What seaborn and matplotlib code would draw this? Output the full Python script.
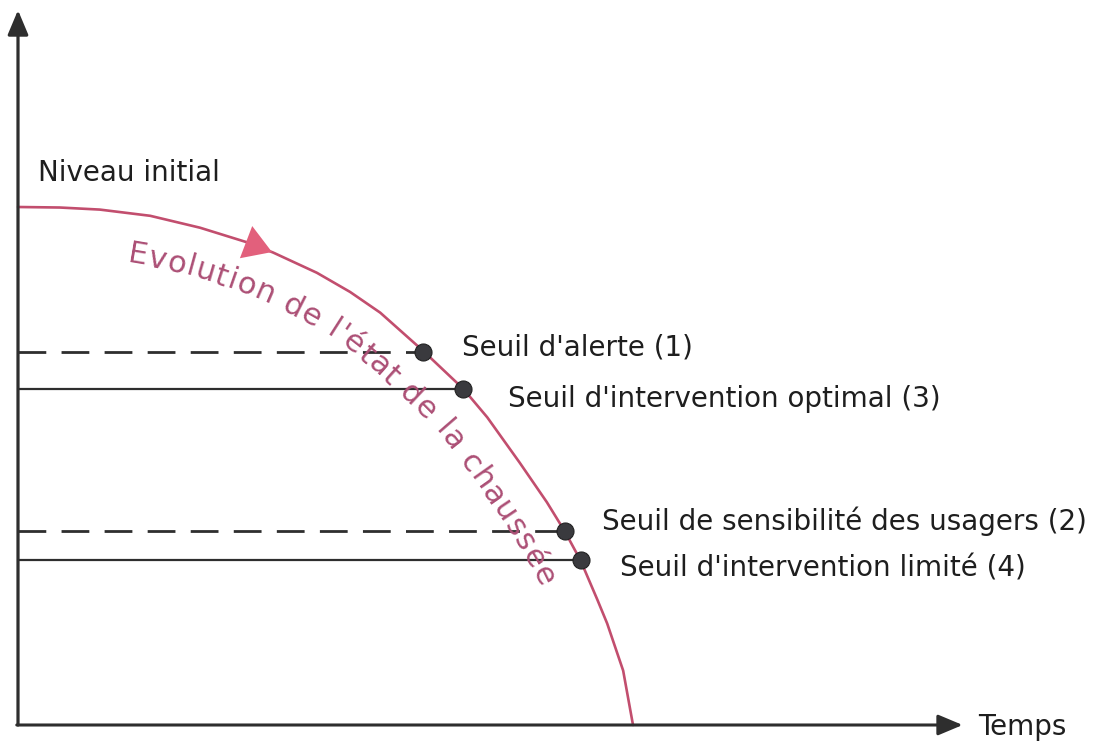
import numpy as np
import pandas as pd
import matplotlib
matplotlib.use("Agg")
import matplotlib.pyplot as plt
import seaborn as sns
from matplotlib.font_manager import FontProperties, findfont
from matplotlib.ft2font import FT2Font

# courbe d'évolution de l'état de la chaussée (temps, niveau)
temps = [0, 6.8, 13.3, 21.5, 29.6, 37.2, 41.5, 48.6, 54.0, 58.9, 65.9, 72.4,
         76.3, 81.6, 86.0, 88.9, 91.5, 94.2, 95.8, 98.4, 100.0]
niveau = [100, 99.9, 99.5, 98.3, 96.0, 93.2, 91.2, 87.3, 83.6, 79.6, 72.2, 64.9,
          59.4, 50.6, 43.0, 37.4, 31.7, 24.2, 19.6, 10.5, 0.0]

# seuils
seuil_labels = ["Seuil d'alerte (1)", "Seuil d'intervention optimal (3)",
                "Seuil de sensibilité des usagers (2)", "Seuil d'intervention limité (4)"]
seuil_temps = [65.9, 72.4, 88.9, 91.5]
seuil_niveau = [72.1, 64.8, 37.5, 31.8]
seuil_style = ["dashed", "solid", "dashed", "solid"]

CURVE = "#c24e6e"
TXT_CURVE = "#ac4f75"
DARK = "#2e2e2e"
FONT = "DejaVu Sans"

sns.set_style("white")
plt.rcParams['font.family'] = [FONT]

fig = plt.figure(figsize=(10.94, 7.44), dpi=100)
ax = fig.add_axes([0, 0, 1, 1])
ax.set_xlim(-18 / 6.15, (1094 - 18) / 6.15)
ax.set_ylim(-(744 - 725) / 5.18, 725 / 5.18)
ax.axis("off")

df = pd.DataFrame({"temps": temps, "niveau": niveau})
sns.lineplot(data=df, x="temps", y="niveau", sort=False, color=CURVE, lw=1.9, ax=ax, zorder=3)

for t, l, ls in zip(seuil_temps, seuil_niveau, seuil_style):
    if ls == "dashed":
        ax.plot([0, t], [l, l], color=DARK, lw=2.0, dashes=(10, 5.5), zorder=2)
    else:
        ax.plot([0, t], [l, l], color=DARK, lw=1.6, zorder=2)

pts = pd.DataFrame({"temps": seuil_temps, "niveau": seuil_niveau})
sns.scatterplot(data=pts, x="temps", y="niveau", s=150, color="#3a3a3e",
                edgecolor="#222222", linewidth=0.8, ax=ax, zorder=5)

offsets = [(39, 4), (45, -10), (37, 9), (39, -8)]
for lab, t, l, (dx, dy) in zip(seuil_labels, seuil_temps, seuil_niveau, offsets):
    ax.annotate(lab, (t, l), xytext=(dx, dy), textcoords="offset pixels",
                fontsize=20, color="#1e1e1e", va="center", ha="left")

# axes avec flèches
head = "-|>,head_length=1.0,head_width=0.42"
ax.annotate("", xy=(0, 138.0), xytext=(0, 0),
            arrowprops=dict(arrowstyle=head, mutation_scale=15, lw=2.3, color=DARK,
                            shrinkA=0, shrinkB=0))
ax.annotate("", xy=(153.6, 0), xytext=(-0.2, 0),
            arrowprops=dict(arrowstyle=head, mutation_scale=15, lw=2.2, color=DARK,
                            shrinkA=0, shrinkB=0))
ax.text(156.1, -0.4, "Temps", fontsize=20, color="#1e1e1e", va="center", ha="left")
ax.text(3.3, 106.6, "Niveau initial", fontsize=20, color="#1e1e1e", va="center", ha="left")

# flèche sur la courbe
ax.annotate("", xy=(41.3, 91.3), xytext=(36.9, 93.3),
            arrowprops=dict(arrowstyle="-|>,head_length=1.0,head_width=0.62",
                            mutation_scale=20, lw=0, color="#e2607c", shrinkA=0, shrinkB=0),
            zorder=6)

# texte le long de la courbe
label = "Evolution de l'état de la chaussée"
fs = 22
fp = FontProperties(family=FONT, size=fs)
ft = FT2Font(findfont(fp))
ft.set_size(fs, 100)
advs = np.array([ft.load_char(ord(c)).linearHoriAdvance / 65536 for c in label])

disp = ax.transData.transform(np.column_stack([temps, niveau]))
seg = np.hypot(np.diff(disp[:, 0]), np.diff(disp[:, 1]))
s_curve = np.concatenate([[0], np.cumsum(seg)])
s_fine = np.linspace(0, s_curve[-1], 1500)
xf = np.interp(s_fine, s_curve, disp[:, 0])
yf = np.interp(s_fine, s_curve, disp[:, 1])
# tangente lissée puis ligne de base décalée vers l'intérieur
h = 30
tx = np.interp(s_fine + h, s_fine, xf) - np.interp(s_fine - h, s_fine, xf)
ty = np.interp(s_fine + h, s_fine, yf) - np.interp(s_fine - h, s_fine, yf)
nrm = np.hypot(tx, ty)
tx, ty = tx / nrm, ty / nrm
off = 49
bx, by = xf + ty * off, yf - tx * off
bs = np.concatenate([[0], np.cumsum(np.hypot(np.diff(bx), np.diff(by)))])
ang = np.degrees(np.arctan2(ty, tx))

i0 = np.searchsorted(s_fine, 116)
i1 = np.searchsorted(s_fine, 712)
start, end = bs[i0], bs[i1]
track = ((end - start) - advs.sum()) / (len(label) - 1)

inv = ax.transData.inverted()
s = start
for c, a in zip(label, advs):
    sm = s + a / 2
    x, y = np.interp(sm, bs, bx), np.interp(sm, bs, by)
    r = np.interp(sm, bs, ang)
    xd, yd = inv.transform((x, y))
    if c != " ":
        ax.text(xd, yd, c, fontproperties=fp, color=TXT_CURVE, rotation=r,
                rotation_mode="anchor", ha="center", va="baseline", zorder=4)
    s += a + track

fig.savefig("out.png", dpi=100)
